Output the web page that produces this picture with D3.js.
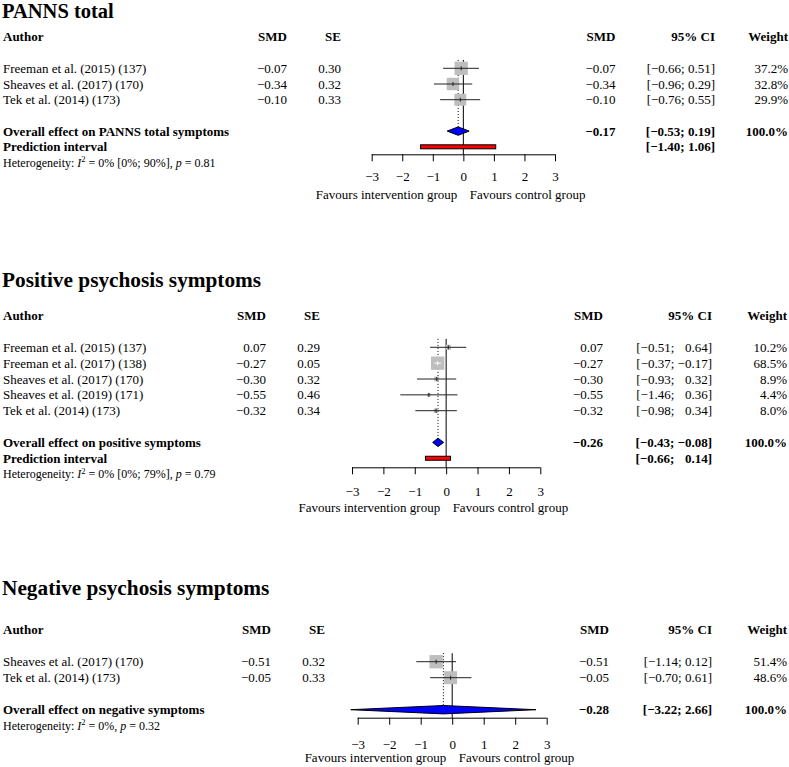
<!DOCTYPE html>
<html>
<head>
<meta charset="utf-8">
<script src="https://cdn.jsdelivr.net/npm/d3@7"></script>
<style>
  html, body { margin: 0; padding: 0; background: #fff; }
  svg { display: block; }
  text { font-family: "Liberation Serif", "Times New Roman", serif; fill: #000; white-space: pre; }
</style>
</head>
<body>
<svg id="chart" width="789" height="767"></svg>
<script>
// ---------------- DATA ----------------
// Panel 1: PANNS total
const p1Authors = ["Freeman et al. (2015) (137)", "Sheaves et al. (2017) (170)", "Tek et al. (2014) (173)"];
const p1SMD = [-0.07, -0.34, -0.10];
const p1SE = [0.30, 0.32, 0.33];
const p1Lower = [-0.66, -0.96, -0.76];
const p1Upper = [0.51, 0.29, 0.55];
const p1Weight = [37.2, 32.8, 29.9];
const p1Overall = [-0.17, -0.53, 0.19];   // estimate, lower, upper
const p1Prediction = [-1.40, 1.06];
const p1Het = ["0%", "[0%; 90%]", "0.81"];

// Panel 2: Positive psychosis symptoms
const p2Authors = ["Freeman et al. (2015) (137)", "Freeman et al. (2017) (138)", "Sheaves et al. (2017) (170)", "Sheaves et al. (2019) (171)", "Tek et al. (2014) (173)"];
const p2SMD = [0.07, -0.27, -0.30, -0.55, -0.32];
const p2SE = [0.29, 0.05, 0.32, 0.46, 0.34];
const p2Lower = [-0.51, -0.37, -0.93, -1.46, -0.98];
const p2Upper = [0.64, -0.17, 0.32, 0.36, 0.34];
const p2Weight = [10.2, 68.5, 8.9, 4.4, 8.0];
const p2Overall = [-0.26, -0.43, -0.08];
const p2Prediction = [-0.66, 0.14];
const p2Het = ["0%", "[0%; 79%]", "0.79"];

// Panel 3: Negative psychosis symptoms
const p3Authors = ["Sheaves et al. (2017) (170)", "Tek et al. (2014) (173)"];
const p3SMD = [-0.51, -0.05];
const p3SE = [0.32, 0.33];
const p3Lower = [-1.14, -0.70];
const p3Upper = [0.12, 0.61];
const p3Weight = [51.4, 48.6];
const p3Overall = [-0.28, -3.22, 2.66];
const p3Prediction = null;
const p3Het = ["0%", null, "0.32"];

const tickValues = [-3, -2, -1, 0, 1, 2, 3];
const leftLabel = "Favours intervention group";
const rightLabel = "Favours control group";

// ---------------- LAYOUT ----------------
const panels = [
  { title: "PANNS total", overallLabel: "Overall effect on PANNS total symptoms",
    authors: p1Authors, smd: p1SMD, se: p1SE, lo: p1Lower, hi: p1Upper, w: p1Weight,
    overall: p1Overall, pred: p1Prediction, het: p1Het,
    titleY: 18.3, row0: 68.3, step: 15.7, xr: [371.7, 555], axisY: 154.3, tickY: 176.5, favY: 194,
    colSMD: 287, colSE: 341, colSMD2: 615.5, colCI: 715, colW: 788 },
  { title: "Positive psychosis symptoms", overallLabel: "Overall effect on positive symptoms",
    authors: p2Authors, smd: p2SMD, se: p2SE, lo: p2Lower, hi: p2Upper, w: p2Weight,
    overall: p2Overall, pred: p2Prediction, het: p2Het,
    titleY: 286.7, row0: 347.3, step: 15.85, xr: [352, 540.3], axisY: 467.3, tickY: 491.5, favY: 507.7,
    colSMD: 266, colSE: 320, colSMD2: 603, colCI: 712, colW: 787 },
  { title: "Negative psychosis symptoms", overallLabel: "Overall effect on negative symptoms",
    authors: p3Authors, smd: p3SMD, se: p3SE, lo: p3Lower, hi: p3Upper, w: p3Weight,
    overall: p3Overall, pred: p3Prediction, het: p3Het,
    titleY: 595, row0: 661.7, step: 16, xr: [357.7, 546.7], axisY: 717.7, tickY: 744, favY: 757.7,
    colSMD: 271, colSE: 325, colSMD2: 609, colCI: 712, colW: 787 }
];

const svg = d3.select("#chart");
const FS = 13;
const MINUS = "\u2212";
const fmt = v => (v < 0 ? MINUS : "") + Math.abs(v).toFixed(2);
const MAXBOX = 13.3;

function txt(g, x, y, s, opts = {}) {
  return g.append("text")
    .attr("x", x).attr("y", y).attr("dy", "0.35em")
    .attr("font-size", opts.size || FS)
    .attr("font-weight", opts.bold ? "bold" : "normal")
    .attr("text-anchor", opts.anchor || "start")
    .text(s);
}

function ciText(g, x, y, lo, hi, padUpper, bold) {
  const t = g.append("text")
    .attr("x", x).attr("y", y).attr("dy", "0.35em")
    .attr("font-size", FS)
    .attr("font-weight", bold ? "bold" : "normal")
    .attr("text-anchor", "end");
  t.append("tspan").text("[" + fmt(lo) + "; ");
  const pad = (padUpper && hi >= 0) ? 0.564 * FS : 0;
  t.append("tspan").attr("dx", pad).text(fmt(hi) + "]");
  return t;
}

panels.forEach((p, pi) => {
  const g = svg.append("g");
  const x = d3.scaleLinear().domain([-3, 3]).range(p.xr);
  const rowY = i => p.row0 + i * p.step;
  const n = p.authors.length;
  const headerY = rowY(-2);
  const overallY = rowY(n + 1);
  const predY = rowY(n + 2);
  const hetY = p.pred ? rowY(n + 3) : rowY(n + 2);
  const padUpper = p.hi.some(v => v < 0) || (p.pred && p.pred[1] < 0) || p.overall[2] < 0;

  // title
  g.append("text").attr("x", 2).attr("y", p.titleY)
    .attr("font-size", pi === 0 ? 20.5 : 21.3).attr("font-weight", "bold").text(p.title);

  // headers
  txt(g, 3, headerY, "Author", { bold: true });
  txt(g, p.colSMD, headerY, "SMD", { bold: true, anchor: "end" });
  txt(g, p.colSE, headerY, "SE", { bold: true, anchor: "end" });
  txt(g, p.colSMD2, headerY, "SMD", { bold: true, anchor: "end" });
  txt(g, p.colCI, headerY, "95% CI", { bold: true, anchor: "end" });
  txt(g, p.colW, headerY, "Weight", { bold: true, anchor: "end" });

  // study rows text
  p.authors.forEach((a, i) => {
    const y = rowY(i);
    txt(g, 3, y, a);
    txt(g, p.colSMD, y, fmt(p.smd[i]), { anchor: "end" });
    txt(g, p.colSE, y, p.se[i].toFixed(2), { anchor: "end" });
    txt(g, p.colSMD2, y, fmt(p.smd[i]), { anchor: "end" });
    ciText(g, p.colCI, y, p.lo[i], p.hi[i], padUpper, false);
    txt(g, p.colW, y, p.w[i].toFixed(1) + "%", { anchor: "end" });
  });

  // overall rows text
  txt(g, 3, overallY, p.overallLabel, { bold: true });
  txt(g, p.colSMD2, overallY, fmt(p.overall[0]), { bold: true, anchor: "end" });
  ciText(g, p.colCI, overallY, p.overall[1], p.overall[2], padUpper, true);
  txt(g, p.colW, overallY, "100.0%", { bold: true, anchor: "end" });
  if (p.pred) {
    txt(g, 3, predY, "Prediction interval", { bold: true });
    ciText(g, p.colCI, predY, p.pred[0], p.pred[1], padUpper, true);
  }

  // heterogeneity
  const ht = g.append("text").attr("x", 3).attr("y", hetY).attr("dy", "0.35em").attr("font-size", 12);
  ht.append("tspan").text("Heterogeneity: ");
  ht.append("tspan").attr("font-style", "italic").text("I");
  ht.append("tspan").attr("font-size", 8.5).attr("dy", -4.5).text("2");
  ht.append("tspan").attr("dy", 4.5).text(" = " + p.het[0] + (p.het[1] ? " " + p.het[1] : "") + ", ");
  ht.append("tspan").attr("font-style", "italic").text("p");
  ht.append("tspan").text(" = " + p.het[2]);

  // reference lines
  const topY = rowY(0) - p.step / 2 - 0.5;
  const dHalf = 4.2;
  g.append("line")
    .attr("x1", x(p.overall[0])).attr("x2", x(p.overall[0]))
    .attr("y1", topY).attr("y2", overallY - dHalf)
    .attr("stroke", "#000").attr("stroke-width", 1).attr("stroke-dasharray", "1,2");
  g.append("line")
    .attr("x1", x(0)).attr("x2", x(0))
    .attr("y1", topY).attr("y2", p.axisY)
    .attr("stroke", "#000").attr("stroke-width", 1);

  // studies: squares + CI
  const maxW = d3.max(p.w);
  p.authors.forEach((a, i) => {
    const y = rowY(i);
    const s = MAXBOX * Math.sqrt(p.w[i] / maxW);
    const cx = x(p.smd[i]);
    g.append("rect")
      .attr("x", cx - s / 2).attr("y", y - s / 2).attr("width", s).attr("height", s)
      .attr("fill", "#bebebe");
    const inside = x(p.lo[i]) >= cx - s / 2 && x(p.hi[i]) <= cx + s / 2;
    const col = inside ? "#fff" : "#222";
    g.append("line")
      .attr("x1", x(p.lo[i])).attr("x2", x(p.hi[i]))
      .attr("y1", y).attr("y2", y)
      .attr("stroke", col).attr("stroke-width", 1);
    g.append("line")
      .attr("x1", cx).attr("x2", cx).attr("y1", y - 2).attr("y2", y + 2)
      .attr("stroke", col).attr("stroke-width", 1);
  });

  // diamond
  const [e, l, h] = p.overall;
  g.append("path")
    .attr("d", `M${x(l)},${overallY} L${x(e)},${overallY - dHalf} L${x(h)},${overallY} L${x(e)},${overallY + dHalf} Z`)
    .attr("fill", "#0000ff").attr("stroke", "#000").attr("stroke-width", 1);

  // prediction interval bar
  if (p.pred) {
    g.append("rect")
      .attr("x", x(p.pred[0])).attr("y", predY - 2)
      .attr("width", x(p.pred[1]) - x(p.pred[0])).attr("height", 4)
      .attr("fill", "#ff0000").attr("stroke", "#000").attr("stroke-width", 1);
  }

  // axis
  const axis = d3.axisBottom(x).tickValues(tickValues).tickSize(7)
    .tickFormat(d => (d < 0 ? MINUS : "") + Math.abs(d));
  const ag = g.append("g").attr("transform", `translate(0,${p.axisY})`).call(axis);
  ag.select(".domain").attr("d", `M${p.xr[0]},0.5H${p.xr[1]}`).attr("stroke", "#000");
  ag.selectAll(".tick line").attr("stroke", "#000");
  ag.selectAll(".tick text")
    .attr("font-family", "Liberation Serif, serif").attr("font-size", FS)
    .attr("y", p.tickY - p.axisY).attr("dy", "0.35em").attr("fill", "#000");

  // favours labels
  g.append("text").attr("x", x(0) - 6).attr("y", p.favY).attr("dy", "0.35em")
    .attr("font-size", FS).attr("text-anchor", "end").text(leftLabel);
  g.append("text").attr("x", x(0) + 6.5).attr("y", p.favY).attr("dy", "0.35em")
    .attr("font-size", FS).attr("text-anchor", "start").text(rightLabel);
});
</script>
</body>
</html>
